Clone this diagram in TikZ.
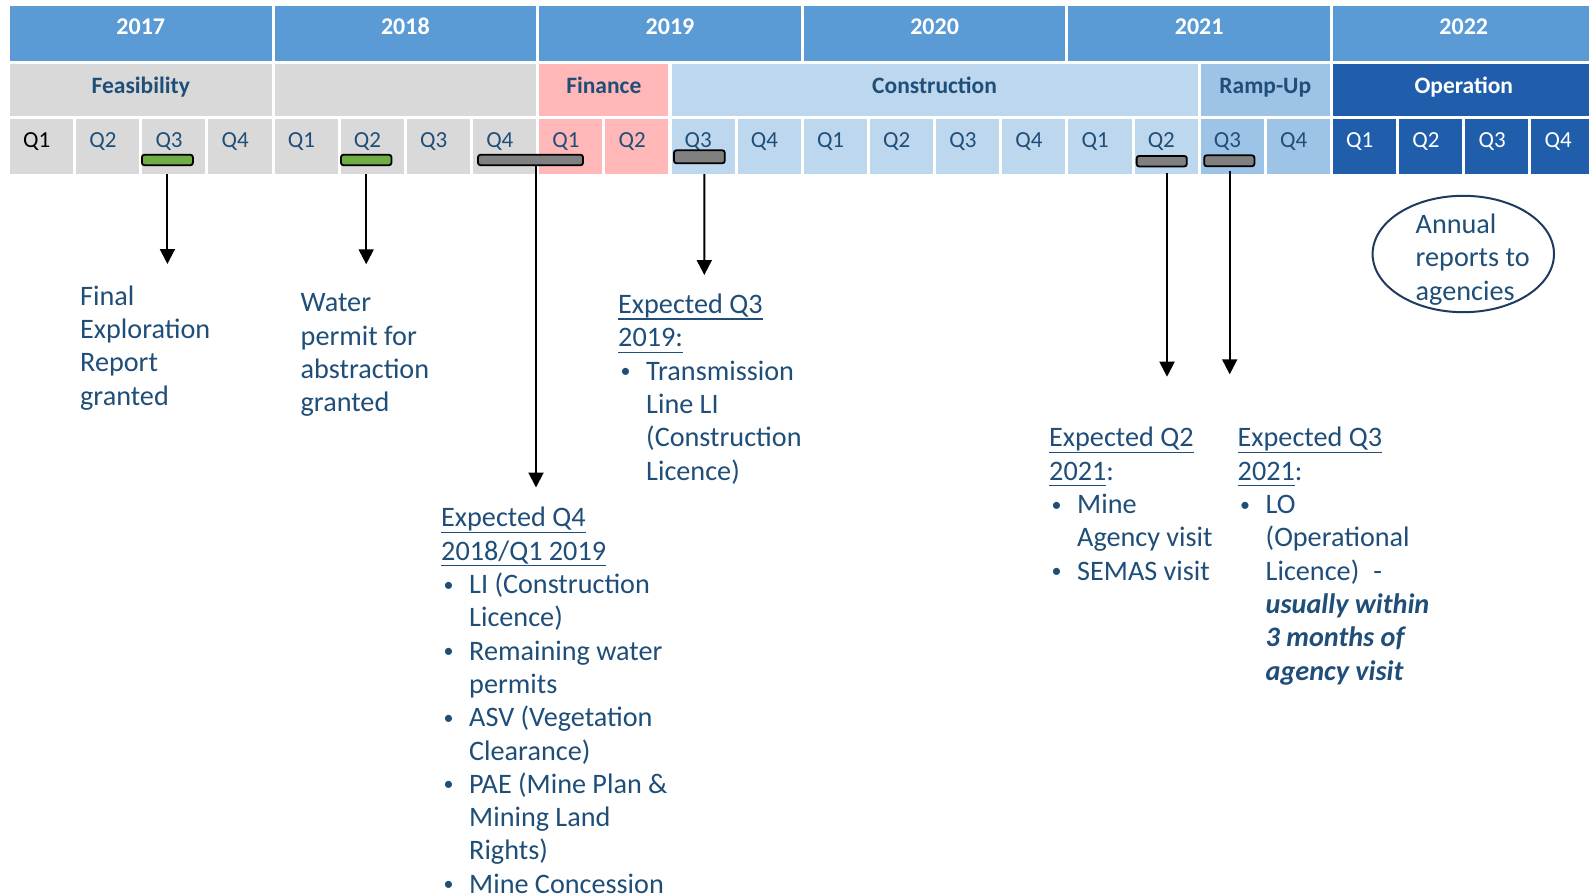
\documentclass[tikz,border=0pt]{standalone}
\usepackage{fontspec}
\setmainfont{Carlito}
\usetikzlibrary{arrows.meta,shapes.geometric}
\definecolor{yearblue}{HTML}{5B9BD5}
\definecolor{phgray}{HTML}{D9D9D9}
\definecolor{pinkc}{HTML}{FFB7B7}
\definecolor{lblue}{HTML}{BDD7EE}
\definecolor{rampc}{HTML}{9DC3E6}
\definecolor{opblue}{HTML}{205EAB}
\definecolor{txt}{HTML}{1F4E79}
\definecolor{mgreen}{HTML}{70AD47}
\definecolor{mgray}{HTML}{808080}
\definecolor{ellc}{HTML}{1E3A5F}
\newcommand{\myul}[1]{\begingroup\setbox0=\hbox{#1}\rlap{\rule[-6.2pt]{\wd0}{1.4pt}}\box0\endgroup}
\newcommand{\mybul}{\makebox[28pt][l]{\makebox[15pt][c]{\raisebox{2.5pt}{\fontsize{20pt}{20pt}\selectfont •}}}}
\newcommand{\myind}{\hspace*{28pt}}
\newcommand{\mystrut}{\rule{0pt}{22pt}}
\begin{document}
\begin{tikzpicture}[x=1pt,y=-1pt,
  yearlbl/.style={anchor=base, text=white, font=\bfseries\fontsize{24pt}{28pt}\selectfont, inner sep=0},
  phaselbl/.style={anchor=base, text=txt, font=\bfseries\fontsize{23.5pt}{28pt}\selectfont, inner sep=0},
  qlbl/.style={anchor=base west, font=\fontsize{23pt}{28pt}\selectfont, inner sep=0},
  marker/.style={draw=black, line width=1.8pt, rounded corners=2.5pt, inner sep=0, minimum height=10.5pt},
  arr/.style={line width=2pt, -{Triangle[width=15pt,length=15pt]}},
  txtblock/.style={anchor=north west, align=left, inner sep=0, text=txt, font=\fontsize{28.2pt}{33.3pt}\selectfont}]
\useasboundingbox (0,0) rectangle (1589,896);
\clip (0,0) rectangle (1589,896);
\fill[white] (0,0) rectangle (1589,896);
% year row
\foreach \yk/\yr in {0/2017,1/2018,2/2019,3/2020,4/2021,5/2022}{
  \fill[yearblue] ({10+264.6*\yk},6) rectangle ++(261.6,55);
  \node[yearlbl] (y\yr) at ({10+264.6*\yk+130.8},34.2) {\yr};
}
% phase row
\fill[phgray] (10,64) rectangle (271.6,116);
\fill[phgray] (274.6,64) rectangle (536.2,116);
\fill[pinkc] (539.2,64) rectangle (668.45,116);
\fill[lblue] (671.5,64) rectangle (1197.65,116);
\fill[rampc] (1200.7,64) rectangle (1330,116);
\fill[opblue] (1333,64) rectangle (1600,116);
\node[phaselbl] (pfeas) at (140.8,93.5) {Feasibility};
\node[phaselbl] (pfin) at (603.8,93.5) {Finance};
\node[phaselbl] (pcons) at (934.6,93.5) {Construction};
\node[phaselbl] (pramp) at (1265.3,93.5) {Ramp-Up};
\node[phaselbl, text=white] (pop) at (1463.8,93.5) {Operation};
% quarter row
\foreach \n in {0,...,23}{
  \pgfmathtruncatemacro\yk{\n/4}
  \pgfmathtruncatemacro\qj{\n-4*\yk}
  \pgfmathtruncatemacro\qn{\qj+1}
  \pgfmathsetmacro\xa{10+264.6*\yk+66.15*\qj}
  \ifnum\n<8 \def\qc{phgray}\else\ifnum\n<10 \def\qc{pinkc}\else\ifnum\n<18 \def\qc{lblue}\else\ifnum\n<20 \def\qc{rampc}\else\def\qc{opblue}\fi\fi\fi\fi
  \ifnum\n=0 \def\tc{black}\else\ifnum\n>19 \def\tc{white}\else\def\tc{txt}\fi\fi
  \fill[\qc] (\xa,119) rectangle ++(63.1,55.3);
  \node[qlbl, text=\tc] (q\n) at ({\xa+13},148) {Q\qn};
}
% markers
\node[marker, fill=mgreen, minimum width=51pt] (m1) at (167.4,160) {};
\node[marker, fill=mgreen, minimum width=50.5pt] (m2) at (366.2,160) {};
\node[marker, fill=mgray, minimum width=105pt] (m3) at (530.5,160) {};
\node[marker, fill=mgray, minimum width=50.8pt, minimum height=13pt] (m4) at (699.4,156.8) {};
\node[marker, fill=mgray, minimum width=50.2pt] (m5) at (1161.7,161.2) {};
\node[marker, fill=mgray, minimum width=50.2pt, minimum height=11pt] (m6) at (1229.3,160.8) {};
% arrows
\coordinate (e1) at (167.4,264);
\coordinate (e2) at (366.2,264.3);
\coordinate (e3) at (536,487.5);
\coordinate (e4) at (704.3,275);
\coordinate (e5) at (1167,376.7);
\coordinate (e6) at (1229.7,374.3);
\draw[arr] ([yshift=-8.3pt]m1.south) -- (e1);
\draw[arr] ([yshift=-8.3pt]m2.south) -- (e2);
\draw[arr] ([xshift=5.5pt]m3.south) -- (e3);
\draw[arr] ([xshift=4.9pt,yshift=-10pt]m4.south) -- (e4);
\draw[arr] ([xshift=5.3pt,yshift=-6pt]m5.south) -- (e5);
\draw[arr] ([xshift=0.4pt,yshift=-3.7pt]m6.south) -- (e6);
% ellipse
\node[draw=ellc, line width=2pt, ellipse, minimum width=181.4pt, minimum height=116.4pt, inner sep=0] (ell) at (1463.3,254) {};
\node[txtblock] (tann) at (1415.5,211.3) {\mystrut Annual\\reports to\\agencies};
% text blocks
\node[txtblock] (tfinal) at (80,283) {\mystrut Final\\Exploration\\Report\\granted};
\node[txtblock] (twater) at (300.5,289.7) {\mystrut Water\\permit for\\abstraction\\granted};
\node[txtblock] (tq319) at (618,291.3) {\mystrut\myul{Expected Q3}\\\myul{2019:}\\\mybul Transmission\\\myind Line LI\\\myind (Construction\\\myind Licence)};
\node[txtblock] (tq418) at (441,504.7) {\mystrut\myul{Expected Q4}\\\myul{2018/Q1 2019}\\\mybul LI (Construction\\\myind Licence)\\\mybul Remaining water\\\myind permits\\\mybul ASV (Vegetation\\\myind Clearance)\\\mybul PAE (Mine Plan \&\\\myind Mining Land\\\myind Rights)\\\mybul Mine Concession};
\node[txtblock] (tq221) at (1049,424.7) {\mystrut\myul{Expected Q2}\\\myul{2021}:\\\mybul Mine\\\myind Agency visit\\\mybul SEMAS visit};
\node[txtblock] (tq321) at (1237.5,424.7) {\mystrut\myul{Expected Q3}\\\myul{2021}:\\\mybul LO\\\myind (Operational\\\myind Licence)\hspace{14pt}-\\\myind\textbf{\textit{usually within}}\\\myind\textbf{\textit{3 months of}}\\\myind\textbf{\textit{agency visit}}};
\end{tikzpicture}
\end{document}
